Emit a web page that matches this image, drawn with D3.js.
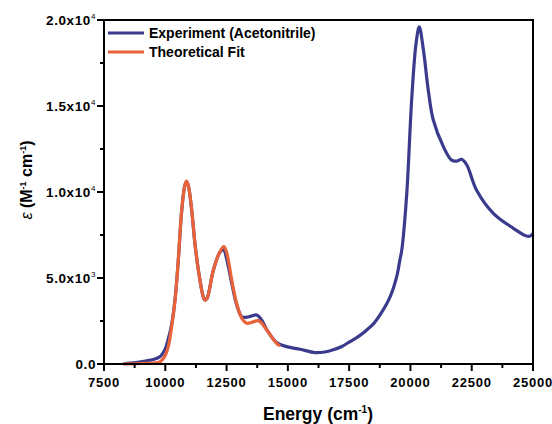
<!DOCTYPE html>
<html>
<head>
<meta charset="utf-8">
<script src="https://cdn.jsdelivr.net/npm/d3@7"></script>
<style>
  body { margin: 0; background: #fff; }
  svg { display: block; font-family: "Liberation Sans", Arial, sans-serif; }
</style>
</head>
<body>
<div id="chart"></div>
<script>
// experimental spectrum (acetonitrile)
const expEnergy = [8300, 8430, 8800, 9240, 9500, 9780, 9990, 10120, 10260, 10400, 10530, 10670, 10800, 10870, 10950, 11080, 11210, 11350, 11550, 11620, 11700, 11960, 12230, 12380, 12480, 12710, 12910, 13120, 13320, 13530, 13730, 13930, 14140, 14540, 14950, 15500, 16110, 16500, 16850, 17200, 17530, 17900, 18220, 18500, 18760, 19170, 19440, 19570, 19650, 19850, 20050, 20230, 20360, 20530, 20730, 20930, 21340, 21680, 21900, 22090, 22300, 22700, 23380, 24200, 24740, 24900, 25000];
const expEps = [20, 40, 80, 190, 260, 420, 850, 1450, 2300, 3800, 6000, 8900, 10400, 10600, 10300, 8900, 7000, 5450, 3900, 3720, 3800, 5450, 6500, 6650, 6250, 4700, 3450, 2750, 2720, 2800, 2850, 2560, 2000, 1250, 1010, 855, 660, 700, 830, 1020, 1300, 1620, 1980, 2350, 2850, 3900, 5080, 6050, 6650, 9900, 15350, 18650, 19600, 18250, 15900, 14200, 12650, 11850, 11800, 11900, 11570, 10100, 8760, 7890, 7440, 7450, 7600];

// theoretical fit
const fitEnergy = [8300, 9000, 9500, 9780, 9990, 10120, 10260, 10400, 10530, 10670, 10800, 10870, 10950, 11080, 11210, 11350, 11550, 11620, 11700, 11960, 12230, 12390, 12500, 12710, 12910, 13120, 13320, 13530, 13800, 14140, 14540, 14680];
const fitEps = [10, 30, 60, 120, 480, 1000, 2170, 3720, 6050, 8950, 10400, 10640, 10300, 8950, 7000, 5450, 3900, 3720, 3800, 5450, 6530, 6820, 6500, 4880, 3530, 2660, 2370, 2420, 2520, 1980, 1200, 1050];

const xTicks = [7500, 10000, 12500, 15000, 17500, 20000, 22500, 25000];
const yTicks = [0, 5000, 10000, 15000, 20000];
const yTickLabels = [["0.0", ""], ["5.0x10", "3"], ["1.0x10", "4"], ["1.5x10", "4"], ["2.0x10", "4"]];
const seriesNames = ["Experiment (Acetonitrile)", "Theoretical Fit"];
const seriesColors = ["#3b3b8e", "#e8623a"];

const W = 552, H = 424;
const m = { left: 104, right: 19, top: 20, bottom: 60 };

const svg = d3.select("#chart").append("svg")
  .attr("width", W).attr("height", H);

const x = d3.scaleLinear().domain([7500, 25000]).range([m.left, W - m.right]);
const y = d3.scaleLinear().domain([0, 20000]).range([H - m.bottom, m.top]);

const line = d3.line()
  .x(d => x(d[0])).y(d => y(d[1]))
  .curve(d3.curveCatmullRom.alpha(0.5));

const expData = d3.zip(expEnergy, expEps);
const fitData = d3.zip(fitEnergy, fitEps);

const plot = svg.append("g");
plot.append("path").datum(expData)
  .attr("d", line).attr("fill", "none")
  .attr("stroke", seriesColors[0]).attr("stroke-width", 3.2)
  .attr("stroke-linejoin", "round");
plot.append("path").datum(fitData)
  .attr("d", line).attr("fill", "none")
  .attr("stroke", seriesColors[1]).attr("stroke-width", 3.2)
  .attr("stroke-linejoin", "round");

// frame
svg.append("rect")
  .attr("x", m.left).attr("y", m.top)
  .attr("width", W - m.right - m.left).attr("height", H - m.bottom - m.top)
  .attr("fill", "none").attr("stroke", "#000").attr("stroke-width", 2);

// x axis
const xMinor = d3.range(8750, 25000, 2500);
const gx = svg.append("g").attr("transform", `translate(0,${H - m.bottom})`);
gx.selectAll(".maj").data(xTicks).join("line")
  .attr("x1", d => x(d)).attr("x2", d => x(d))
  .attr("y1", 0).attr("y2", 7)
  .attr("stroke", "#000").attr("stroke-width", 2);
gx.selectAll(".min").data(xMinor).join("line")
  .attr("x1", d => x(d)).attr("x2", d => x(d))
  .attr("y1", 0).attr("y2", 4)
  .attr("stroke", "#000").attr("stroke-width", 2);
gx.selectAll("text").data(xTicks).join("text")
  .attr("x", d => x(d)).attr("y", 23)
  .attr("text-anchor", "middle")
  .attr("font-size", 13).attr("font-weight", "bold")
  .attr("letter-spacing", 0.8)
  .text(d => d);

// y axis
const yMinor = d3.range(2500, 20000, 5000);
const gy = svg.append("g").attr("transform", `translate(${m.left},0)`);
gy.selectAll(".maj").data(yTicks).join("line")
  .attr("x1", -7).attr("x2", 0)
  .attr("y1", d => y(d)).attr("y2", d => y(d))
  .attr("stroke", "#000").attr("stroke-width", 2);
gy.selectAll(".min").data(yMinor).join("line")
  .attr("x1", -4).attr("x2", 0)
  .attr("y1", d => y(d)).attr("y2", d => y(d))
  .attr("stroke", "#000").attr("stroke-width", 2);
const yl = gy.selectAll("text").data(yTicks).join("text")
  .attr("x", -8).attr("y", d => y(d) + 5)
  .attr("text-anchor", "end")
  .attr("font-size", 13.5).attr("font-weight", "bold")
  .attr("letter-spacing", 0.6);
yl.append("tspan").text((d, i) => yTickLabels[i][0]);
yl.append("tspan")
  .attr("dy", -6).attr("font-size", 8).attr("font-weight", "normal")
  .text((d, i) => yTickLabels[i][1]);

// axis titles
const xt = svg.append("text")
  .attr("x", 318).attr("y", 420)
  .attr("text-anchor", "middle")
  .attr("font-size", 17.5).attr("font-weight", "bold");
xt.append("tspan").text("Energy (cm");
xt.append("tspan").attr("dy", -7).attr("font-size", 10).text("-1");
xt.append("tspan").attr("dy", 7).text(")");

const yt = svg.append("text")
  .attr("transform", "translate(32,180) rotate(-90)")
  .attr("text-anchor", "middle")
  .attr("font-size", 16).attr("font-weight", "bold");
yt.append("tspan").attr("font-style", "italic").attr("font-weight", "normal").text("ε");
yt.append("tspan").text(" (M");
yt.append("tspan").attr("dy", -6).attr("font-size", 9).text("-1");
yt.append("tspan").attr("dy", 6).text(" cm");
yt.append("tspan").attr("dy", -6).attr("font-size", 9).text("-1");
yt.append("tspan").attr("dy", 6).text(")");

// legend
const lg = svg.append("g");
seriesNames.forEach((name, i) => {
  const ly = 33 + i * 19;
  lg.append("line")
    .attr("x1", 108).attr("x2", 144).attr("y1", ly).attr("y2", ly)
    .attr("stroke", seriesColors[i]).attr("stroke-width", 3);
  lg.append("text")
    .attr("x", 149).attr("y", ly + 5)
    .attr("font-size", 14).attr("font-weight", "bold")
    .text(name);
});
</script>
</body>
</html>
